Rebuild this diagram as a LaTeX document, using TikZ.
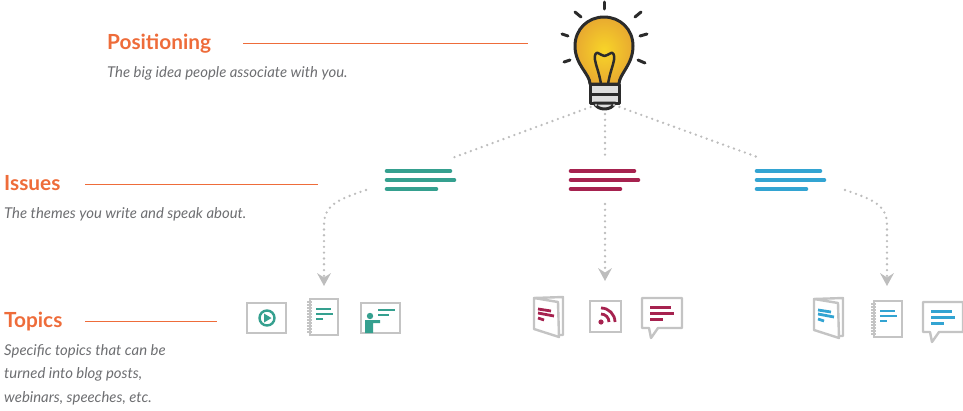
\documentclass[tikz,border=0pt]{standalone}
\usepackage{fontspec}
\setmainfont{Lato}
\usetikzlibrary{arrows.meta}
\definecolor{orng}{HTML}{EE6C3A}
\definecolor{txtg}{HTML}{6D6E71}
\definecolor{tealc}{HTML}{35A08F}
\definecolor{redc}{HTML}{A6224F}
\definecolor{bluec}{HTML}{33A4D2}
\definecolor{icong}{HTML}{C4C4C4}
\definecolor{dotg}{HTML}{BDBDBD}
\definecolor{ink}{HTML}{2B2B2B}
\definecolor{bulbin}{HTML}{F8D528}
\definecolor{bulbout}{HTML}{E8AA30}
\definecolor{basec}{HTML}{DEDEDE}
\tikzset{
  head/.style={anchor=base west,inner sep=0pt,text=orng,font=\bfseries\fontsize{20.8}{24}\selectfont},
  desc/.style={anchor=base west,inner sep=0pt,text=txtg,font=\itshape\fontsize{14.9}{23.5}\selectfont},
  rulel/.style={draw=orng,line width=1pt},
  dotl/.style={draw=dotg,line width=2.6pt,line cap=round,dash pattern=on 0pt off 5.8pt},
  dotarrow/.style={dotl,-{Stealth[inset=4.5pt,length=13pt,width=14pt,fill=dotg,line width=0pt]}},
  frame/.style={draw=icong,line width=2.4pt,fill=white},
  ray/.style={draw=ink,line width=3pt,line cap=round},
  bulbl/.style={draw=ink,line width=3pt,line join=round},
  pics/bars/.style={code={
    \draw[#1,line width=4.6pt,line cap=round] (2,0)--(65,0) (2,9)--(69,9) (2,18)--(51,18);}},
  pics/txtl/.style={code={
    \draw[#1,line width=2.8pt] (0,0)--(15,0) (0,5)--(17,5) (0,10)--(7,10);}},
  pics/notebook/.style={code={
    \draw[frame] (0,0) rectangle (28,36);
    \foreach \k in {3,6,...,33}{\draw[icong,line width=1.2pt] (-3,\k)--(2,\k);}
    \pic at (6,10) {txtl=#1};}},
  pics/brochure/.style={code={
    \draw[frame,line join=round] (0,0)--(29,-1)--(29,37)--(25,37);
    \draw[frame,line join=round] (0,0)--(24,4)--(25,39)--(0,31)--cycle;
    \draw[#1,line width=2.8pt] (4,11)--(17,13) (4,15)--(20,18) (4,20)--(10,22);}},
  pics/bubble/.style={code={
    \draw[frame,line join=round] (0,0)--(40,0)--(40,30)--(16,30)--(9,40)--(7,30)--(0,30)--cycle;
    \draw[#1,line width=3pt] (8,9)--(29,9) (8,15)--(32,15) (8,21)--(21,21);}}
}
\begin{document}
\begin{tikzpicture}[x=1pt,y=-1pt]
\useasboundingbox (0,0) rectangle (963,410);
% labels
\node[head] (tPos) at (107,49) {Positioning};
\node[desc] (dPos) at (107,77) {The big idea people associate with you.};
\node[head] (tIss) at (4,190) {Issues};
\node[desc] (dIss) at (4,218) {The themes you write and speak about.};
\node[head] (tTop) at (4,327) {Topics};
\node[desc] (dTopA) at (4,355) {Specific topics that can be};
\node[desc] (dTopB) at (4,378) {turned into blog posts,};
\node[desc] (dTopC) at (4,402) {webinars, speeches, etc.};
\coordinate (rPosA) at (243,43); \coordinate (rPosB) at (528,43);
\coordinate (rIssA) at (85,184); \coordinate (rIssB) at (318,184);
\coordinate (rTopA) at (85,321); \coordinate (rTopB) at (217,321);
\draw[rulel] (rPosA)--(rPosB);
\draw[rulel] (rIssA)--(rIssB);
\draw[rulel] (rTopA)--(rTopB);
% bulb
\foreach \a/\b/\c/\d in {604.5/2/604.5/9, 575/12/581/17, 635/17/641/12, 562/34/568/36, 640/36/647/34, 564/62/570/60, 638/60/645/63}
  \draw[ray] (\a,\b)--(\c,\d);
\shade[inner color=bulbin,outer color=bulbout,bulbl]
  (590,84) .. controls (590,74) and (575,65) .. (575,46)
  .. controls (575,29) and (588,17) .. (604,17)
  .. controls (620,17) and (633,29) .. (633,46)
  .. controls (633,65) and (619,74) .. (619,84) -- cycle;
\draw[draw=ink,line width=2.5pt,line join=round]
  (601,84) .. controls (599,72) and (596,66) .. (595,60)
  .. controls (594,55) and (596,52) .. (598,53)
  .. controls (601,54) and (602,56) .. (604.5,56)
  .. controls (607,56) and (608,54) .. (611,53)
  .. controls (613,52) and (615,55) .. (614,60)
  .. controls (613,66) and (610,72) .. (608,84);
\draw[bulbl,fill=basec] (590,84) rectangle (619,94);
\draw[bulbl,fill=basec] (590,94) rectangle (619,103);
\draw[bulbl,fill=basec] (594,103) .. controls (596,107) and (600,109) .. (604.5,109) .. controls (609,109) and (613,107) .. (615,103) -- cycle;
% issues
\pic at (385,171) {bars=tealc};
\pic at (569,171) {bars=redc};
\pic at (755,171) {bars=bluec};
\coordinate (bL) at (596,105); \coordinate (bM) at (605,114); \coordinate (bR) at (614,105);
\coordinate (iA) at (452,158); \coordinate (iB) at (605,157); \coordinate (iC) at (760,158);
\draw[dotl] (bL)--(iA);
\draw[dotl] (bM)--(iB);
\draw[dotl] (bR)--(iC);
\coordinate (oA) at (366,190); \coordinate (oB) at (605,204); \coordinate (oC) at (845,190);
\coordinate (tA) at (324,286); \coordinate (tB) at (605,281); \coordinate (tC) at (887,286);
\draw[dotarrow] (oA) .. controls (340,199) and (324,204) .. (324,225) -- (tA);
\draw[dotarrow] (oB)--(tB);
\draw[dotarrow] (oC) .. controls (871,199) and (887,204) .. (887,225) -- (tC);
% teal icons
\draw[frame] (247,303) rectangle (286,333);
\draw[tealc,line width=2.4pt] (267,318) circle (7.5);
\fill[tealc] (264,313.5)--(271.5,318)--(264,322.5)--cycle;
\pic at (310,299) {notebook=tealc};
\draw[frame] (361,303) rectangle (400,333);
\fill[tealc] (370,316) circle (3.2);
\fill[tealc] (365,320) -- (380,320) -- (380,323) -- (373,323) -- (373,333) -- (365,333) -- cycle;
\draw[tealc,line width=2.6pt] (378,310)--(395,310) (378,315)--(389,315);
% red icons
\pic at (534,298) {brochure=redc};
\draw[frame] (590,301) rectangle (621,332);
\fill[redc] (601,322) circle (2.6);
\draw[redc,line width=2.8pt] (601,314) arc (-90:0:8) (601,308) arc (-90:0:14);
\pic at (642,298) {bubble=redc};
% blue icons
\pic at (814,299) {brochure=bluec};
\pic at (874,301) {notebook=bluec};
\pic at (923,302) {bubble=bluec};
\end{tikzpicture}
\end{document}
